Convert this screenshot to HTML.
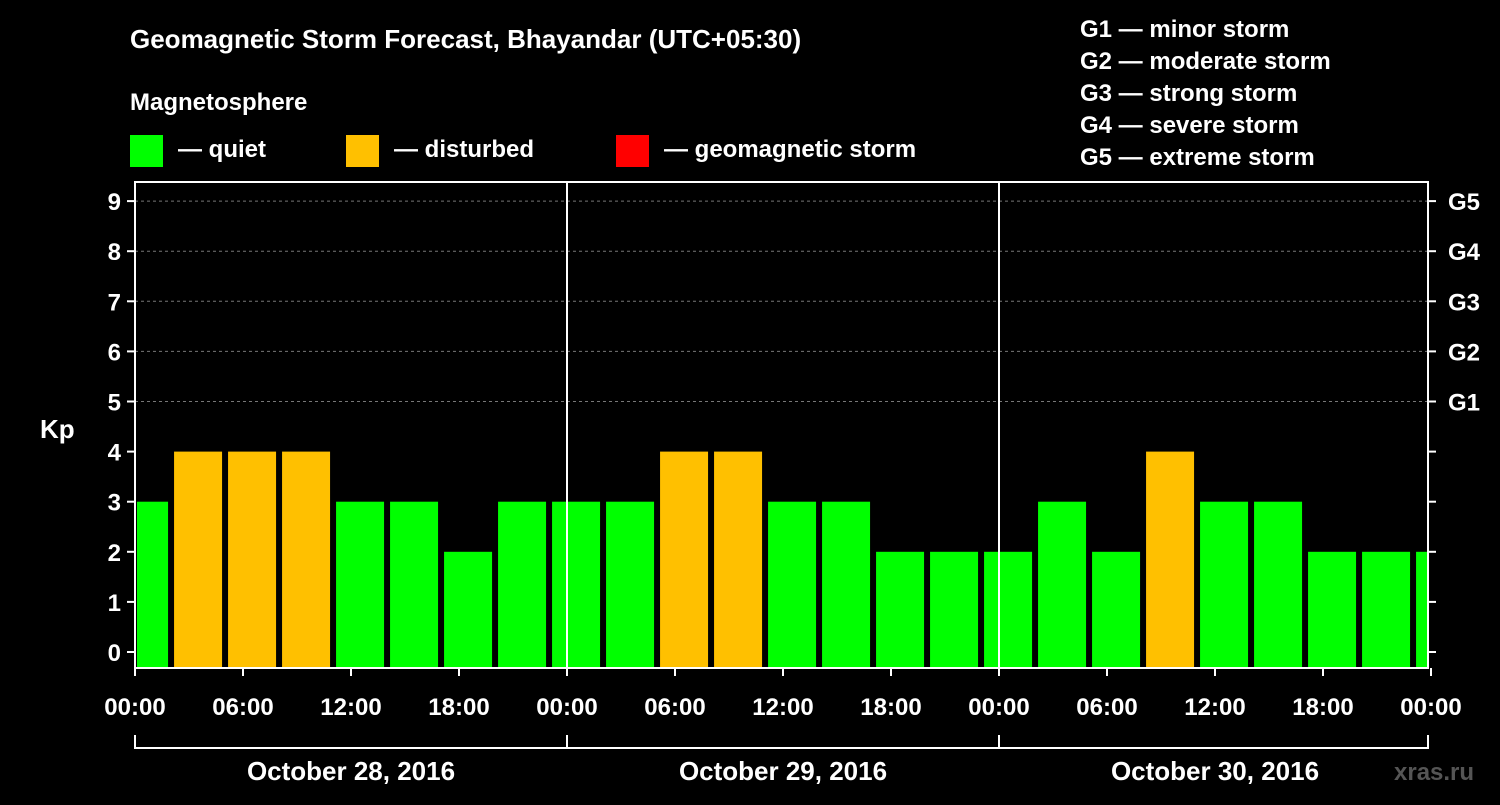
<!DOCTYPE html>
<html><head><meta charset="utf-8"><style>
body{margin:0;background:#000;width:1500px;height:800px;overflow:hidden;font-family:"Liberation Sans",Arial,sans-serif}
svg text{font-family:"Liberation Sans",Arial,sans-serif;font-weight:bold;fill:#fff}
</style></head><body>
<svg id="c" width="1500" height="800">
<text x="130" y="48" font-size="26">Geomagnetic Storm Forecast, Bhayandar (UTC+05:30)</text>
<text x="130" y="110" font-size="24">Magnetosphere</text>
<g><rect x="130" y="135" width="33" height="32" fill="#00ff00"/><text x="178" y="157" font-size="24">— quiet</text></g>
<g><rect x="346" y="135" width="33" height="32" fill="#ffc000"/><text x="394" y="157" font-size="24">— disturbed</text></g>
<g><rect x="616" y="135" width="33" height="32" fill="#ff0000"/><text x="664" y="157" font-size="24">— geomagnetic storm</text></g>
<g font-size="24">
<text x="1080" y="37">G1 — minor storm</text><text x="1080" y="69">G2 — moderate storm</text><text x="1080" y="101">G3 — strong storm</text><text x="1080" y="133">G4 — severe storm</text><text x="1080" y="165">G5 — extreme storm</text></g>
<text x="40" y="438" font-size="26">Kp</text>
<text x="1394" y="780" font-size="24" fill="#444" style="fill:#555">xras.ru</text>
<g id="g"></g>
</svg>
<script>
const kpValues=[3,4,4,4,3,3,2,3,3,3,4,4,3,3,2,2,2,3,2,4,3,3,2,2,2];
const dayLabels=["October 28, 2016","October 29, 2016","October 30, 2016"];
const hourLabels=["00:00","06:00","12:00","18:00"];
const gLabels=["G1","G2","G3","G4","G5"];
const X0=135,X1=1428,PX_DAY=432,Y0=652,PY=50.1,TOP=182,BOT=668;
const xH=h=>X0+h*18, yK=k=>Y0-k*PY;
const g=document.getElementById('g'),NS='http://www.w3.org/2000/svg';
function mk(t,a,p){const e=document.createElementNS(NS,t);for(const k in a)e.setAttribute(k,a[k]);(p||g).appendChild(e);return e;}
for(let k=5;k<=9;k++){const l=mk('line',{x1:X0,x2:X1,y1:yK(k),y2:yK(k),stroke:'#777','stroke-dasharray':'3,3'});

}
kpValues.forEach((v,i)=>{let l=xH(i*3-0.83),r=l+48;l=Math.max(l,X0+2);r=Math.min(r,X1);
const b=mk('rect',{x:l,y:yK(v),width:r-l,height:BOT-yK(v),fill:v>=5?'#ff0000':v>=4?'#ffc000':'#00ff00'});

});
mk('rect',{x:X0,y:TOP,width:X1-X0,height:BOT-TOP,fill:'none',stroke:'#fff','stroke-width':2});
for(let d=1;d<3;d++)mk('line',{x1:xH(d*24),x2:xH(d*24),y1:TOP,y2:BOT,stroke:'#fff','stroke-width':2});
for(let k=0;k<=9;k++){const y=yK(k);
mk('line',{x1:X0-8,x2:X0,y1:y,y2:y,stroke:'#fff','stroke-width':2});
mk('line',{x1:X1,x2:X1+8,y1:y,y2:y,stroke:'#fff','stroke-width':2});
const t=mk('text',{x:X0-14,y:y+9,'font-size':24,'text-anchor':'end'});t.textContent=k;


if(k>=5){const gt=mk('text',{x:X1+20,y:y+9,'font-size':24});gt.textContent=gLabels[k-5];

}}
for(let d=0;d<3;d++){for(let j=0;j<=4;j++){if(j==4&&d<2)continue;const h=d*24+j*6,x=xH(h);
mk('line',{x1:x,x2:x,y1:BOT,y2:BOT+8,stroke:'#fff','stroke-width':2});
const t=mk('text',{x:x,y:715,'font-size':24,'text-anchor':'middle'});t.textContent=hourLabels[j%4];

}
const dt=mk('text',{x:xH(d*24+12),y:780,'font-size':26,'text-anchor':'middle'});dt.textContent=dayLabels[d];

}
mk('line',{x1:X0,x2:X1,y1:748,y2:748,stroke:'#fff','stroke-width':2});
for(let d=0;d<=3;d++){const x=d<3?xH(d*24):X1;mk('line',{x1:x,x2:x,y1:735,y2:749,stroke:'#fff','stroke-width':2});}
</script>
</body></html>
